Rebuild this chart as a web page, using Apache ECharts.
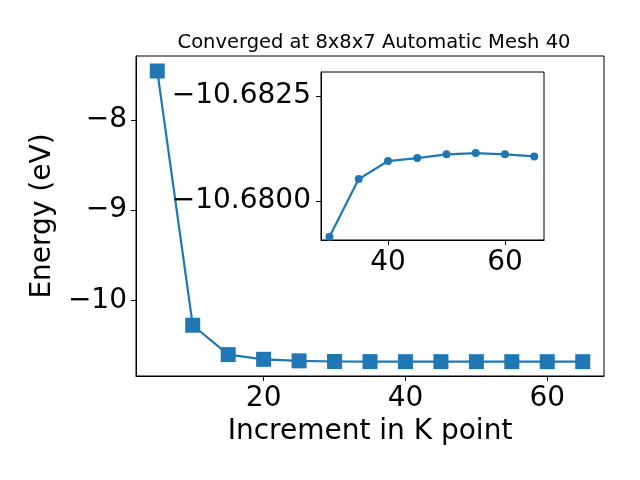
<!DOCTYPE html>
<html><head><meta charset="utf-8">
<script src="https://cdn.jsdelivr.net/npm/echarts@6/dist/echarts.min.js"></script>
<style>html,body{margin:0;padding:0;background:#fff}#c{width:640px;height:480px}</style>
</head><body><div id="c"></div>
<script>
const kPoints = [5, 10, 15, 20, 25, 30, 35, 40, 45, 50, 55, 60, 65];
const energies = [-7.457, -10.277, -10.603, -10.655, -10.672, -10.67915, -10.68052, -10.68095, -10.68102, -10.68111, -10.68114, -10.68111, -10.68106];
const insetK = [30, 35, 40, 45, 50, 55, 60, 65];
const insetEnergies = [-10.67915, -10.68052, -10.68095, -10.68102, -10.68111, -10.68114, -10.68111, -10.68106];
const mainXTicks = [20, 40, 60];
const mainYTicks = [-10, -9, -8];
const insetXTicks = [40, 60];
const insetYTicks = [-10.6825, -10.6800];
const titleText = 'Converged at 8x8x7 Automatic Mesh 40';

const FONT = 'DejaVu Sans';
const C = '#1f77b4';
const minus = s => String(s).replace('-', '\u2212');
const axisCommon = {
  axisLine: {show: true, onZero: false, lineStyle: {color: '#000', width: 1}},
  axisTick: {show: true, inside: false, length: 5, lineStyle: {color: '#000', width: 1}},
  splitLine: {show: false},
  axisLabel: {color: '#000', fontFamily: FONT, fontSize: 28, margin: 9}
};
const chart = echarts.init(document.getElementById('c'), null, {renderer: 'canvas'});
chart.setOption({
  animation: false,
  backgroundColor: '#fff',
  title: {text: titleText, left: 369, textAlign: 'center', top: 28,
    textStyle: {fontFamily: FONT, fontSize: 19.5, fontWeight: 'normal', color: '#000'}},
  grid: [
    {left: 136, top: 56, right: 36, bottom: 104, show: true, borderColor: '#000', borderWidth: 1, backgroundColor: 'transparent', containLabel: false},
    {left: 321, top: 72, right: 96, bottom: 240, show: true, borderColor: '#000', borderWidth: 1, backgroundColor: '#fff', containLabel: false, z: 5}
  ],
  xAxis: [
    Object.assign({}, axisCommon, {type: 'value', gridIndex: 0, min: 2, max: 68,
      name: 'Increment in K point', nameLocation: 'middle', nameGap: 41,
      nameTextStyle: {fontFamily: FONT, fontSize: 28, color: '#000'},
      axisTick: Object.assign({}, axisCommon.axisTick, {customValues: mainXTicks}),
      axisLabel: Object.assign({}, axisCommon.axisLabel, {customValues: mainXTicks})}),
    Object.assign({}, axisCommon, {type: 'value', gridIndex: 1, min: 28.55, max: 66.67, z: 6,
      axisTick: Object.assign({}, axisCommon.axisTick, {customValues: insetXTicks}),
      axisLabel: Object.assign({}, axisCommon.axisLabel, {customValues: insetXTicks})})
  ],
  yAxis: [
    Object.assign({}, axisCommon, {type: 'value', gridIndex: 0, min: -10.84, max: -7.291,
      name: 'Energy (eV)', nameLocation: 'middle', nameGap: 72, nameRotate: 90,
      nameTextStyle: {fontFamily: FONT, fontSize: 28, color: '#000'},
      axisTick: Object.assign({}, axisCommon.axisTick, {customValues: mainYTicks}),
      axisLabel: Object.assign({}, axisCommon.axisLabel, {customValues: mainYTicks, formatter: v => minus(v)})}),
    Object.assign({}, axisCommon, {type: 'value', gridIndex: 1, min: -10.68307, max: -10.67907, inverse: true, z: 6,
      axisTick: Object.assign({}, axisCommon.axisTick, {customValues: insetYTicks}),
      axisLabel: Object.assign({}, axisCommon.axisLabel, {customValues: insetYTicks, margin: 10, formatter: v => minus(Number(v).toFixed(4))})})
  ],
  series: [
    {type: 'line', xAxisIndex: 0, yAxisIndex: 0, data: kPoints.map((k, i) => [k, energies[i]]),
      symbol: 'rect', symbolSize: 15, lineStyle: {color: C, width: 2.2}, itemStyle: {color: C}, z: 2},
    {type: 'line', xAxisIndex: 1, yAxisIndex: 1, data: insetK.map((k, i) => [k, insetEnergies[i]]),
      symbol: 'circle', symbolSize: 8, lineStyle: {color: C, width: 2.2}, itemStyle: {color: C}, z: 7, clip: false}
  ]
});
</script></body></html>
